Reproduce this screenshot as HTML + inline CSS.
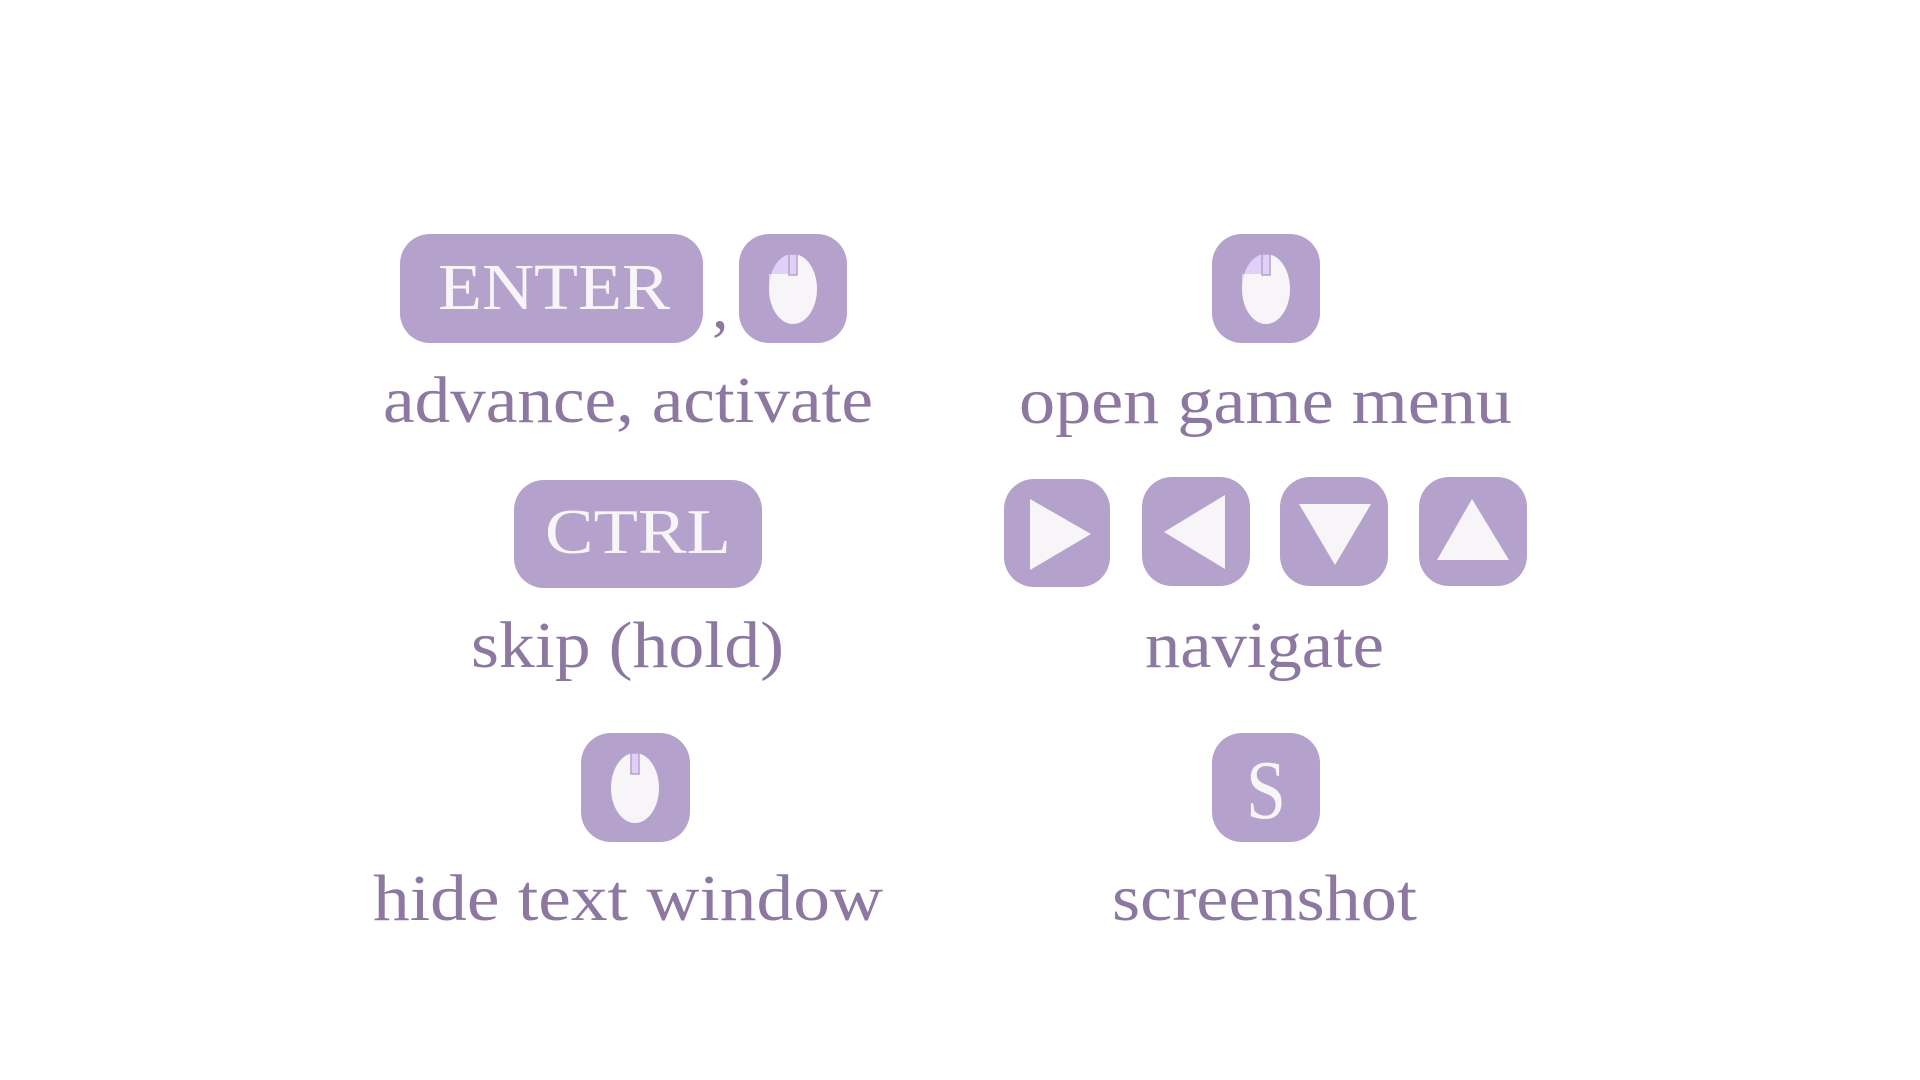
<!DOCTYPE html>
<html><head><meta charset="utf-8"><style>
html,body{margin:0;padding:0;background:#fff;width:1920px;height:1080px;overflow:hidden}
svg{display:block}
.k{fill:#b5a2cc}
.kt{fill:#f8f5f9;font-family:"Liberation Serif",serif}
.lb{fill:#8c78a0;font-family:"Liberation Serif",serif;font-size:66px}
.tri{fill:#f8f5f9}
</style></head><body>
<svg width="1920" height="1080" viewBox="0 0 1920 1080">
<g>
<rect class="k" x="400" y="234" width="303" height="109" rx="30"/>
<text class="kt" x="438" y="309" font-size="66" textLength="232" lengthAdjust="spacingAndGlyphs">ENTER</text>
</g>
<text class="lb" x="712" y="328" font-size="64">,</text>
<g>
<rect class="k" x="739" y="234" width="108" height="109" rx="30"/>
<ellipse cx="793" cy="289" rx="24" ry="35" fill="#f8f5f9"/>
<path d="M769 289 A24 35 0 0 1 793 254 L793 274 L769 274 Z" fill="#e0cff7"/>
<rect x="789" y="254" width="8" height="21" fill="#e0cff7" stroke="#b5a2cc" stroke-width="1.5"/>
</g>
<text class="lb" x="383" y="422" textLength="490" lengthAdjust="spacingAndGlyphs">advance, activate</text>
<g>
<rect class="k" x="1212" y="234" width="108" height="109" rx="30"/>
<ellipse cx="1266" cy="289" rx="24" ry="35" fill="#f8f5f9"/>
<path d="M1242 289 A24 35 0 0 1 1266 254 L1266 274 L1242 274 Z" fill="#e0cff7"/>
<rect x="1262" y="254" width="8" height="21" fill="#e0cff7" stroke="#b5a2cc" stroke-width="1.5"/>
</g>
<text class="lb" x="1019" y="423" textLength="493" lengthAdjust="spacingAndGlyphs">open game menu</text>
<g>
<rect class="k" x="514" y="480" width="248" height="108" rx="30"/>
<text class="kt" x="545" y="553" font-size="64" textLength="186" lengthAdjust="spacingAndGlyphs">CTRL</text>
</g>
<text class="lb" x="471" y="667" textLength="313" lengthAdjust="spacingAndGlyphs">skip (hold)</text>
<g>
<rect class="k" x="1004" y="479" width="106" height="108" rx="30"/>
<polygon class="tri" points="1030,499 1030,570 1091,534"/>
</g>
<g>
<rect class="k" x="1142" y="477" width="108" height="109" rx="30"/>
<polygon class="tri" points="1225,495 1225,569 1164,532"/>
</g>
<g>
<rect class="k" x="1280" y="477" width="108" height="109" rx="30"/>
<polygon class="tri" points="1299,504 1371,504 1335,565"/>
</g>
<g>
<rect class="k" x="1419" y="477" width="108" height="109" rx="30"/>
<polygon class="tri" points="1437,560 1509,560 1472,499"/>
</g>
<text class="lb" x="1145" y="667" textLength="239" lengthAdjust="spacingAndGlyphs">navigate</text>
<g>
<rect class="k" x="581" y="733" width="109" height="109" rx="30"/>
<ellipse cx="635" cy="788" rx="24" ry="35" fill="#f8f5f9"/>
<rect x="631" y="753" width="8" height="21" fill="#e0cff7" stroke="#b5a2cc" stroke-width="1.5"/>
</g>
<text class="lb" x="373" y="920" textLength="510" lengthAdjust="spacingAndGlyphs">hide text window</text>
<g>
<rect class="k" x="1212" y="733" width="108" height="109" rx="30"/>
<text class="kt" x="1266" y="818" font-size="84" text-anchor="middle" textLength="40" lengthAdjust="spacingAndGlyphs">S</text>
</g>
<text class="lb" x="1112" y="920" textLength="305" lengthAdjust="spacingAndGlyphs">screenshot</text>
</svg>
</body></html>
